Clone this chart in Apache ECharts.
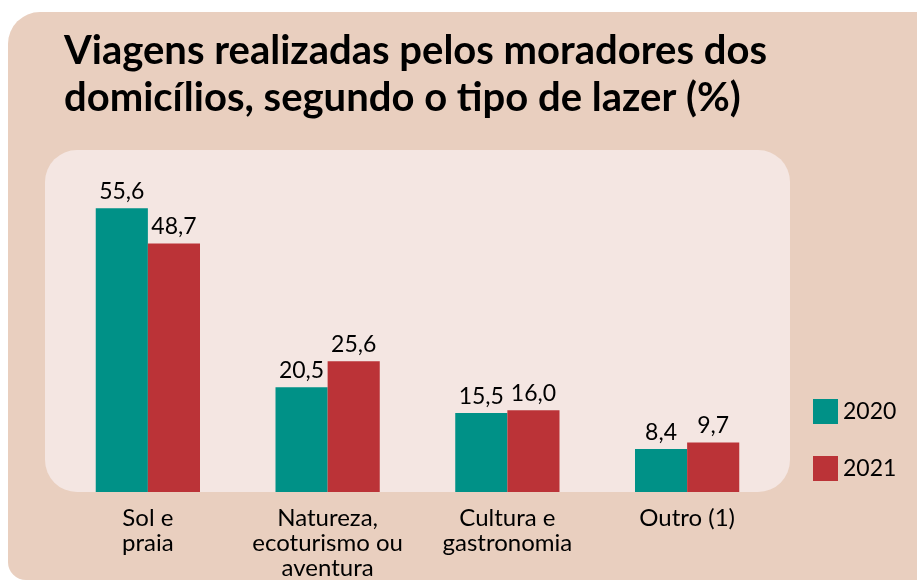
<!DOCTYPE html>
<html>
<head>
<meta charset="utf-8">
<script src="https://cdn.jsdelivr.net/npm/echarts@6/dist/echarts.min.js"></script>
<style>
  html, body { margin: 0; padding: 0; background: #ffffff; }
  #main { width: 917px; height: 583px; }
</style>
</head>
<body>
<div id="main"></div>
<script>
var categorias = ['Sol e\npraia', 'Natureza,\necoturismo ou\naventura', 'Cultura e\ngastronomia', 'Outro (1)'];
var valores2020 = [55.6, 20.5, 15.5, 8.4];
var valores2021 = [48.7, 25.6, 16.0, 9.7];
var anos = ['2020', '2021'];

var chart = echarts.init(document.getElementById('main'));

// virgula decimal
function fmt(p) {
    return p.value.toFixed(1).replace('.', ',');
}

var fonte = 'Lato';

var option = {
    backgroundColor: '#ffffff',
    textStyle: { fontFamily: fonte },
    // painel de fundo
    graphic: [
        {
            type: 'rect', z: -10,
            shape: { x: 8, y: 12, width: 940, height: 568, r: [32, 0, 0, 18] },
            style: { fill: '#e9cfbf' }
        },
        {
            type: 'rect', z: -9,
            shape: { x: 45, y: 150, width: 745, height: 342, r: 32 },
            style: { fill: '#f4e6e2' }
        }
    ],
    title: {
        text: 'Viagens realizadas pelos moradores dos\ndomicílios, segundo o tipo de lazer (%)',
        left: 59,
        top: 23,
        textStyle: {
            fontFamily: fonte,
            fontWeight: 'bold',
            fontSize: 40,
            lineHeight: 47,
            color: '#000000'
        }
    },
    legend: {
        data: anos,
        orient: 'vertical',
        left: 808,
        top: 394,
        itemWidth: 25,
        itemHeight: 25,
        itemGap: 32,
        icon: 'rect',
        textStyle: { fontSize: 23, color: '#000000', fontFamily: fonte }
    },
    grid: {
        left: 58,
        right: 140,
        top: 150,
        bottom: 91
    },
    xAxis: {
        type: 'category',
        data: categorias,
        axisLine: { show: false },
        axisTick: { show: false },
        axisLabel: {
            interval: 0,
            margin: 14,
            fontSize: 24,
            lineHeight: 25,
            color: '#000000',
            fontFamily: fonte
        }
    },
    yAxis: {
        type: 'value',
        min: 0,
        max: 67,
        show: false,
        splitLine: { show: false }
    },
    series: [
        {
            name: anos[0],
            type: 'bar',
            data: valores2020,
            barGap: '0%',
            barCategoryGap: '42%',
            itemStyle: { color: '#009187' },
            label: {
                show: true, position: 'top', distance: 5,
                formatter: fmt, fontSize: 23, color: '#000000', fontFamily: fonte
            }
        },
        {
            name: anos[1],
            type: 'bar',
            data: valores2021,
            itemStyle: { color: '#bb3337' },
            label: {
                show: true, position: 'top', distance: 5,
                formatter: fmt, fontSize: 23, color: '#000000', fontFamily: fonte
            }
        }
    ]
};

chart.setOption(option);
</script>
</body>
</html>
